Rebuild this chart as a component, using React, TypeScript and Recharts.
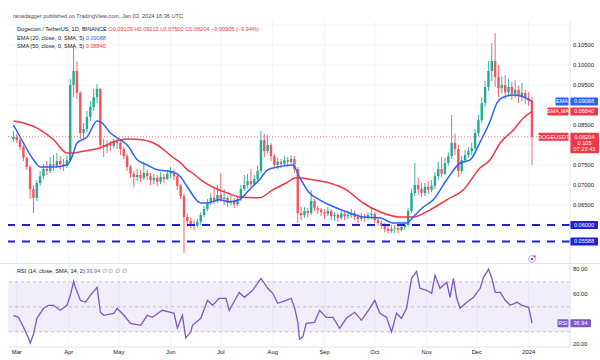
import React from 'react';
import { ComposedChart, Bar, Line, XAxis, YAxis, CartesianGrid, ReferenceLine, ReferenceArea } from 'recharts';

const FONT = '"Liberation Sans", Arial, sans-serif';
const UP = '#22ab94';
const DOWN = '#f7525f';
const EMA_C = '#2962ff';
const SMA_C = '#f23645';
const RSI_C = '#7e57c2';
const LEVEL_C = '#2020dc';
const GRID_C = '#f0f3fa';
const TEXT_C = '#131722';
const AXIS_C = '#e0e3eb';

// ---- daily candles sampled every 2 days, first one on Feb 27 (day -2, Mar 1 = day 0)
const FIRST_DAY = -2;
const DAY_STEP = 2;
const firstOpen = 0.0815;
const closes = [
  0.0820, 0.0812, 0.0795, 0.0768, 0.0745, 0.0690, 0.0668, 0.0705, 0.0722, 0.0740,
  0.0735, 0.0752, 0.0748, 0.0760, 0.0752, 0.0748, 0.0762, 0.0950, 0.0985, 0.0930,
  0.0830, 0.0840, 0.0870, 0.0895, 0.0920, 0.0940, 0.0800, 0.0795, 0.0802, 0.0798,
  0.0808, 0.0805, 0.0790, 0.0772, 0.0745, 0.0728, 0.0720, 0.0725, 0.0718, 0.0730,
  0.0722, 0.0712, 0.0718, 0.0708, 0.0720, 0.0715, 0.0728, 0.0732, 0.0722, 0.0698,
  0.0672, 0.0620, 0.0610, 0.0602, 0.0598, 0.0608, 0.0625, 0.0640, 0.0655, 0.0668,
  0.0660, 0.0675, 0.0665, 0.0668, 0.0655, 0.0660, 0.0652, 0.0665, 0.0690, 0.0700,
  0.0710, 0.0702, 0.0715, 0.0735, 0.0812, 0.0785, 0.0800, 0.0772, 0.0750, 0.0758,
  0.0752, 0.0762, 0.0758, 0.0765, 0.0740, 0.0630, 0.0625, 0.0635, 0.0630, 0.0660,
  0.0642, 0.0638, 0.0632, 0.0628, 0.0635, 0.0622, 0.0625, 0.0618, 0.0628, 0.0622,
  0.0625, 0.0630, 0.0620, 0.0615, 0.0622, 0.0618, 0.0625, 0.0628, 0.0612, 0.0605,
  0.0598, 0.0590, 0.0585, 0.0590, 0.0592, 0.0588, 0.0595, 0.0600, 0.0635, 0.0680,
  0.0700, 0.0690, 0.0680, 0.0695, 0.0688, 0.0698, 0.0722, 0.0740, 0.0728, 0.0755,
  0.0772, 0.0805, 0.0790, 0.0735, 0.0762, 0.0775, 0.0785, 0.0792, 0.0830, 0.0862,
  0.0905, 0.0945, 0.0985, 0.1010, 0.0970, 0.0942, 0.0950, 0.0932, 0.0945, 0.0928,
  0.0938, 0.0922, 0.0930, 0.0918, 0.09109, 0.08204,
];
const highs = [
  0.0835, 0.0828, 0.0818, 0.0800, 0.0770, 0.0750, 0.0700, 0.0712, 0.0735, 0.0752,
  0.0760, 0.0770, 0.0775, 0.0780, 0.0772, 0.0765, 0.0775, 0.0965, 0.1045, 0.1010,
  0.0935, 0.0855, 0.0885, 0.0910, 0.0940, 0.0952, 0.0942, 0.0815, 0.0812, 0.0810,
  0.0815, 0.0818, 0.0812, 0.0795, 0.0778, 0.0750, 0.0735, 0.0740, 0.0738, 0.0758,
  0.0740, 0.0730, 0.0728, 0.0725, 0.0732, 0.0728, 0.0738, 0.0745, 0.0740, 0.0728,
  0.0702, 0.0678, 0.0628, 0.0618, 0.0612, 0.0615, 0.0632, 0.0648, 0.0665, 0.0680,
  0.0690, 0.0700, 0.0730, 0.0690, 0.0672, 0.0675, 0.0668, 0.0672, 0.0700, 0.0725,
  0.0728, 0.0740, 0.0725, 0.0748, 0.0835, 0.0828, 0.0825, 0.0805, 0.0778, 0.0768,
  0.0765, 0.0772, 0.0770, 0.0775, 0.0772, 0.0745, 0.0645, 0.0645, 0.0642, 0.0688,
  0.0665, 0.0648, 0.0642, 0.0640, 0.0645, 0.0640, 0.0632, 0.0630, 0.0635, 0.0632,
  0.0635, 0.0640, 0.0635, 0.0628, 0.0630, 0.0628, 0.0632, 0.0640, 0.0632, 0.0620,
  0.0612, 0.0605, 0.0598, 0.0600, 0.0600, 0.0598, 0.0602, 0.0608, 0.0642, 0.0690,
  0.0755, 0.0718, 0.0705, 0.0705, 0.0710, 0.0712, 0.0732, 0.0758, 0.0770, 0.0768,
  0.0782, 0.0875, 0.0828, 0.0800, 0.0772, 0.0788, 0.0795, 0.0805, 0.0840, 0.0875,
  0.0918, 0.0960, 0.1010, 0.1055, 0.1080, 0.1000, 0.0972, 0.0975, 0.0965, 0.0958,
  0.0962, 0.0948, 0.0955, 0.0938, 0.0932, 0.09213,
];
const lows = [
  0.0808, 0.0805, 0.0788, 0.0760, 0.0738, 0.0665, 0.0630, 0.0660, 0.0698, 0.0715,
  0.0725, 0.0730, 0.0735, 0.0742, 0.0738, 0.0735, 0.0742, 0.0758, 0.0920, 0.0915,
  0.0815, 0.0812, 0.0832, 0.0860, 0.0885, 0.0905, 0.0790, 0.0770, 0.0780, 0.0785,
  0.0792, 0.0790, 0.0775, 0.0765, 0.0735, 0.0718, 0.0694, 0.0710, 0.0708, 0.0712,
  0.0712, 0.0700, 0.0702, 0.0698, 0.0702, 0.0705, 0.0712, 0.0718, 0.0712, 0.0688,
  0.0665, 0.0530, 0.0595, 0.0592, 0.0588, 0.0595, 0.0600, 0.0620, 0.0635, 0.0650,
  0.0652, 0.0655, 0.0658, 0.0650, 0.0645, 0.0648, 0.0642, 0.0648, 0.0660, 0.0685,
  0.0692, 0.0695, 0.0698, 0.0710, 0.0730, 0.0770, 0.0778, 0.0760, 0.0742, 0.0740,
  0.0742, 0.0748, 0.0745, 0.0752, 0.0730, 0.0605, 0.0612, 0.0618, 0.0620, 0.0625,
  0.0635, 0.0628, 0.0622, 0.0615, 0.0622, 0.0612, 0.0610, 0.0608, 0.0612, 0.0612,
  0.0615, 0.0618, 0.0612, 0.0605, 0.0610, 0.0608, 0.0612, 0.0615, 0.0605, 0.0598,
  0.0590, 0.0582, 0.0578, 0.0580, 0.0580, 0.0580, 0.0584, 0.0588, 0.0596, 0.0630,
  0.0672, 0.0675, 0.0670, 0.0672, 0.0678, 0.0682, 0.0690, 0.0712, 0.0720, 0.0725,
  0.0748, 0.0765, 0.0775, 0.0720, 0.0728, 0.0755, 0.0768, 0.0775, 0.0788, 0.0822,
  0.0855, 0.0895, 0.0935, 0.0960, 0.0945, 0.0920, 0.0928, 0.0915, 0.0922, 0.0912,
  0.0918, 0.0905, 0.0910, 0.0902, 0.0898, 0.0750,
];

// ---- EMA 20 (blue)
const emaDays = [
  -2, 2, 10, 14, 22, 30, 33, 36, 42, 48,
  51, 56, 62, 66, 72, 78, 84, 93, 98, 102,
  110, 114, 121, 127, 133, 139, 145, 150, 156, 165,
  169, 175, 181, 187, 197, 207, 217, 225, 233, 237,
  243, 249, 257, 265, 271, 277, 283, 287, 291, 297,
  303, 308,
];
const emaValues = [
  0.0850, 0.0820, 0.0763, 0.0745, 0.0745, 0.0750, 0.0770, 0.0805, 0.0820, 0.0860,
  0.0855, 0.0830, 0.0813, 0.0800, 0.0763, 0.0750, 0.0738, 0.0733, 0.0720, 0.0695,
  0.0655, 0.0655, 0.0663, 0.0658, 0.0663, 0.0688, 0.0713, 0.0738, 0.0745, 0.0750,
  0.0720, 0.0680, 0.0663, 0.0650, 0.0633, 0.0620, 0.0618, 0.0605, 0.0605, 0.0620,
  0.0645, 0.0663, 0.0713, 0.0755, 0.0763, 0.0808, 0.0860, 0.0905, 0.0920, 0.0925,
  0.0920, 0.09088,
];

// ---- SMA 50 (red)
const smaDays = [
  -2, 4, 14, 22, 30, 34, 38, 50, 58, 66,
  75, 84, 93, 98, 102, 105, 110, 117, 126, 133,
  145, 153, 161, 167, 177, 187, 197, 207, 217, 229,
  237, 247, 257, 267, 277, 283, 289, 297, 303, 308,
];
const smaValues = [
  0.0860, 0.0855, 0.0838, 0.0813, 0.0780, 0.0780, 0.0783, 0.0793, 0.0808, 0.0815,
  0.0813, 0.0800, 0.0770, 0.0755, 0.0738, 0.0730, 0.0713, 0.0695, 0.0680, 0.0670,
  0.0668, 0.0688, 0.0705, 0.0718, 0.0713, 0.0705, 0.0688, 0.0655, 0.0633, 0.0620,
  0.0620, 0.0638, 0.0663, 0.0688, 0.0743, 0.0763, 0.0805, 0.0838, 0.0868, 0.0884,
];

// ---- RSI 14
const rsiDays = [
  -2, 1, 4, 7, 8, 10, 12, 16, 19, 22,
  26, 30, 32, 34, 35, 38, 41, 44, 48, 50,
  52, 58, 60, 64, 68, 74, 78, 81, 87, 92,
  94, 96, 99, 101, 104, 105, 110, 114, 117, 121,
  125, 127, 133, 136, 141, 146, 150, 153, 156, 161,
  164, 166, 168, 169, 171, 173, 178, 181, 185, 189,
  193, 197, 202, 206, 211, 214, 217, 221, 224, 227,
  230, 233, 236, 239, 241, 245, 248, 250, 253, 257,
  259, 261, 263, 265, 269, 273, 277, 279, 282, 284,
  286, 289, 292, 295, 299, 302, 306, 308,
];
const rsiValues = [
  43.2, 41.6, 33.6, 25, 21, 28, 40.8, 48.8, 51.2, 51.2,
  47.2, 51.2, 59.2, 70.4, 65.6, 55.2, 53.6, 59.2, 65.6, 45.6,
  43.2, 44.8, 48.8, 43.2, 36.8, 35.2, 43.2, 41.6, 47.2, 45.6,
  44.8, 33, 43.2, 25, 30, 35.2, 40.8, 55.2, 51.2, 56.8,
  56.8, 47.2, 61.6, 57.6, 63.2, 72.8, 64.8, 60.8, 52.8, 55.2,
  56.8, 49.6, 37.6, 24, 26, 36.8, 37.6, 47.2, 41.6, 41.6,
  32.8, 40.8, 45.6, 39.2, 48.8, 55.2, 44.8, 41.6, 30, 44.8,
  40.8, 48.8, 72.8, 78.4, 64.8, 63.2, 60.8, 75.2, 64.8, 69.6,
  57.6, 72.8, 56.8, 48.8, 53.6, 57.6, 64.8, 73.6, 80, 72.8,
  61.6, 61.6, 55.2, 51.2, 53.6, 51.2, 49.6, 36.94,
];

// ---- axes
const monthDays = [0, 31, 61, 92, 122, 153, 184, 214, 245, 275, 306];
const monthLabels = ['Mar', 'Apr', 'May', 'Jun', 'Jul', 'Aug', 'Sep', 'Oct', 'Nov', 'Dec', '2024'];
const priceTicks = [0.065, 0.07, 0.075, 0.085, 0.095, 0.1, 0.105];
const priceGrid = [0.055, 0.06, 0.065, 0.07, 0.075, 0.08, 0.085, 0.09, 0.095, 0.1, 0.105, 0.11];
const rsiTicks = [20, 60, 80];
const rsiBands = [70, 50, 30];
const supportLevels = [0.06, 0.05588];
const lastPrice = 0.08204;
const lastEma = 0.09088;
const lastSma = 0.0884;
const lastRsi = 36.94;

const X_MIN = -5.26;
const X_MAX = 330.7;
const P_MIN = 0.0505;
const P_MAX = 0.111;
const R_MIN = 17.84;
const R_MAX = 84.24;

type Row = { t: number; o?: number; h?: number; l?: number; c?: number; ema?: number; sma?: number };

const rowMap = new Map<number, Row>();
const getRow = (t: number): Row => {
  if (!rowMap.has(t)) rowMap.set(t, { t });
  return rowMap.get(t)!;
};
closes.forEach((c, i) => {
  const r = getRow(FIRST_DAY + DAY_STEP * i);
  r.o = i === 0 ? firstOpen : closes[i - 1];
  r.c = c;
  r.h = highs[i];
  r.l = lows[i];
});
emaDays.forEach((d, i) => { getRow(d).ema = emaValues[i]; });
smaDays.forEach((d, i) => { getRow(d).sma = smaValues[i]; });
const priceRows = Array.from(rowMap.values()).sort((a, b) => a.t - b.t);
const rsiRows = rsiDays.map((t, i) => ({ t, r: rsiValues[i] }));

const Candle = (props: any) => {
  const { x, y, width, height, payload } = props;
  if (!payload || payload.h == null || !isFinite(y) || !isFinite(height)) return <g />;
  const { o, h, l, c } = payload;
  const top = Math.min(y, y + height);
  const bot = Math.max(y, y + height);
  const k = h > l ? (bot - top) / (h - l) : 0;
  const py = (p: number) => top + (h - p) * k;
  const cx = x + width / 2;
  const color = c >= o ? UP : DOWN;
  const bTop = Math.min(py(o), py(c));
  const bH = Math.max(0.8, Math.abs(py(o) - py(c)));
  return (
    <g>
      <line x1={cx} x2={cx} y1={top} y2={bot} stroke={color} strokeWidth={0.9} />
      <rect x={cx - 1.2} y={bTop} width={2.4} height={bH} fill={color} />
    </g>
  );
};

const tagText = { fontFamily: FONT, fontSize: 5.6, fill: '#ffffff' } as const;

function makeTag(opts: { value: string; fill: string; name?: string; nameW?: number; valueW?: number; extra?: string[] }) {
  return (props: any) => {
    const vb = props && props.viewBox;
    if (!vb) return null;
    const xr = vb.x + vb.width;
    const yc = vb.y;
    const vw = opts.valueW ?? 28;
    const nw = opts.nameW ?? 14;
    const lines = [opts.value, ...(opts.extra ?? [])];
    const h = 8 + (lines.length - 1) * 6.2;
    return (
      <g>
        {opts.name ? (
          <g>
            <rect x={xr - nw - 1.5} y={yc - 4} width={nw} height={8} fill={opts.fill} rx={0.8} />
            <text x={xr - nw / 2 - 1.5} y={yc} dy="0.35em" textAnchor="middle" {...tagText}>{opts.name}</text>
          </g>
        ) : null}
        <rect x={xr} y={yc - 4} width={vw} height={h} fill={opts.fill} rx={0.8} />
        {lines.map((s, i) => (
          <text key={i} x={xr + vw / 2} y={yc + i * 6.2} dy="0.35em" textAnchor="middle" {...tagText}>{s}</text>
        ))}
      </g>
    );
  };
}

const PriceTick = (p: any) => (
  <text x={p.x} y={p.y} dy="0.35em" textAnchor="start" fontFamily={FONT} fontSize={5.8} fill={TEXT_C}>
    {Number(p.payload.value).toFixed(5)}
  </text>
);
const RsiTick = (p: any) => (
  <text x={p.x} y={p.y} dy="0.35em" textAnchor="start" fontFamily={FONT} fontSize={5.8} fill={TEXT_C}>
    {Number(p.payload.value).toFixed(2)}
  </text>
);
const MonthTick = (p: any) => {
  const idx = monthDays.indexOf(p.payload.value);
  return (
    <text x={p.x} y={p.y + 6.5} textAnchor="middle" fontFamily={FONT} fontSize={5.8} fill={TEXT_C}>
      {idx >= 0 ? monthLabels[idx] : ''}
    </text>
  );
};

export default function App() {
  return (
    <div style={{ position: 'absolute', left: 0, top: 0, width: 600, height: 360, background: '#ffffff', overflow: 'hidden', fontFamily: FONT }}>
      <div style={{ position: 'absolute', left: 0, top: 0 }}>
        <ComposedChart width={600} height={263} data={priceRows} margin={{ top: 21, right: 0, bottom: 0, left: 8 }}>
          <CartesianGrid stroke={GRID_C} horizontalValues={priceGrid} verticalValues={monthDays} />
          <XAxis dataKey="t" type="number" domain={[X_MIN, X_MAX]} allowDataOverflow hide />
          <YAxis
            orientation="right"
            width={30}
            domain={[P_MIN, P_MAX]}
            allowDataOverflow
            ticks={priceTicks}
            interval={0}
            tick={PriceTick}
            tickSize={0}
            tickMargin={3}
            tickLine={false}
            axisLine={{ stroke: AXIS_C }}
          />
          <Bar
            dataKey={(d: Row) => (d.h == null ? null : [d.l, d.h])}
            shape={Candle}
            barSize={3}
            isAnimationActive={false}
          />
          <Line dataKey="sma" type="monotone" stroke={SMA_C} strokeWidth={1.5} dot={false} activeDot={false} connectNulls isAnimationActive={false} />
          <Line dataKey="ema" type="monotone" stroke={EMA_C} strokeWidth={1.5} dot={false} activeDot={false} connectNulls isAnimationActive={false} />
          {supportLevels.map((v) => (
            <ReferenceLine
              key={v}
              y={v}
              stroke={LEVEL_C}
              strokeWidth={2}
              strokeDasharray="8 7"
              label={makeTag({ value: v.toFixed(5), fill: LEVEL_C })}
            />
          ))}
          <ReferenceLine
            y={lastPrice}
            stroke={DOWN}
            strokeWidth={0.8}
            strokeDasharray="1 2"
            label={makeTag({ value: lastPrice.toFixed(5), fill: SMA_C, name: 'DOGEUSDT', nameW: 30, valueW: 29, extra: ['0.105', '07:23:43'] })}
          />
          <ReferenceLine y={lastSma} stroke="none" label={makeTag({ value: lastSma.toFixed(5), fill: SMA_C, name: 'SMA,MA', nameW: 21 })} />
          <ReferenceLine y={lastEma} stroke="none" label={makeTag({ value: lastEma.toFixed(5), fill: EMA_C, name: 'EMA', nameW: 13 })} />
        </ComposedChart>
      </div>
      <div style={{ position: 'absolute', left: 0, top: 263 }}>
        <ComposedChart width={600} height={97} data={rsiRows} margin={{ top: 1, right: 0, bottom: 0, left: 8 }}>
          <CartesianGrid stroke={GRID_C} horizontal={false} verticalValues={monthDays} />
          <ReferenceArea y1={30} y2={70} fill={RSI_C} fillOpacity={0.1} stroke="none" />
          {rsiBands.map((b) => (
            <ReferenceLine key={b} y={b} stroke="#9598a1" strokeWidth={0.8} strokeDasharray="3 3" strokeOpacity={0.7} />
          ))}
          <XAxis
            dataKey="t"
            type="number"
            domain={[X_MIN, X_MAX]}
            allowDataOverflow
            ticks={monthDays}
            interval={0}
            height={13}
            tick={MonthTick}
            tickSize={0}
            tickMargin={0}
            tickLine={false}
            axisLine={{ stroke: AXIS_C }}
          />
          <YAxis
            orientation="right"
            width={30}
            domain={[R_MIN, R_MAX]}
            allowDataOverflow
            ticks={rsiTicks}
            interval={0}
            tick={RsiTick}
            tickSize={0}
            tickMargin={3}
            tickLine={false}
            axisLine={{ stroke: AXIS_C }}
          />
          <Line dataKey="r" type="linear" stroke={RSI_C} strokeWidth={1.3} dot={false} activeDot={false} isAnimationActive={false} />
          <ReferenceLine y={lastRsi} stroke="none" label={makeTag({ value: lastRsi.toFixed(2), fill: RSI_C, name: 'RSI', nameW: 11, valueW: 21 })} />
        </ComposedChart>
      </div>
      <svg width={600} height={360} style={{ position: 'absolute', left: 0, top: 0, pointerEvents: 'none' }}>
        <line x1={0} x2={600} y1={263.5} y2={263.5} stroke={AXIS_C} strokeWidth={1} />
        <text x={13} y={18} fontFamily={FONT} fontSize={5.6} fill="#4a4a4a">
          ranadagger published on TradingView.com, Jan 03, 2024 16:36 UTC
        </text>
        <text x={17} y={31} fontFamily={FONT} fontSize={5.6} fill={TEXT_C}>
          <tspan>Dogecoin / TetherUS, 1D, BINANCE  </tspan>
          <tspan fill={SMA_C}>O0.09109 H0.09213 L0.07500 C0.08204 −0.00905 (−9.94%)</tspan>
        </text>
        <text x={17} y={40} fontFamily={FONT} fontSize={5.6} fill={TEXT_C}>
          <tspan>EMA (20, close, 0, SMA, 5) </tspan>
          <tspan fill={EMA_C}>0.09088</tspan>
        </text>
        <text x={17} y={48} fontFamily={FONT} fontSize={5.6} fill={TEXT_C}>
          <tspan>SMA (50, close, 0, SMA, 5) </tspan>
          <tspan fill={SMA_C}>0.08840</tspan>
        </text>
        <text x={17} y={273} fontFamily={FONT} fontSize={5.6} fill={TEXT_C}>
          <tspan>RSI (14, close, SMA, 14, 2) </tspan>
          <tspan fill={RSI_C}>36.94</tspan>
          <tspan fill="#787b86"> ∅ ∅ ∅ ∅</tspan>
        </text>
        <circle cx={532} cy={259} r={3.4} fill="#ffffff" stroke="#b39ddb" strokeWidth={0.9} />
        <circle cx={532} cy={259} r={1.3} fill={RSI_C} />
        <circle cx={534.6} cy={256.4} r={1.1} fill={SMA_C} />
      </svg>
    </div>
  );
}
